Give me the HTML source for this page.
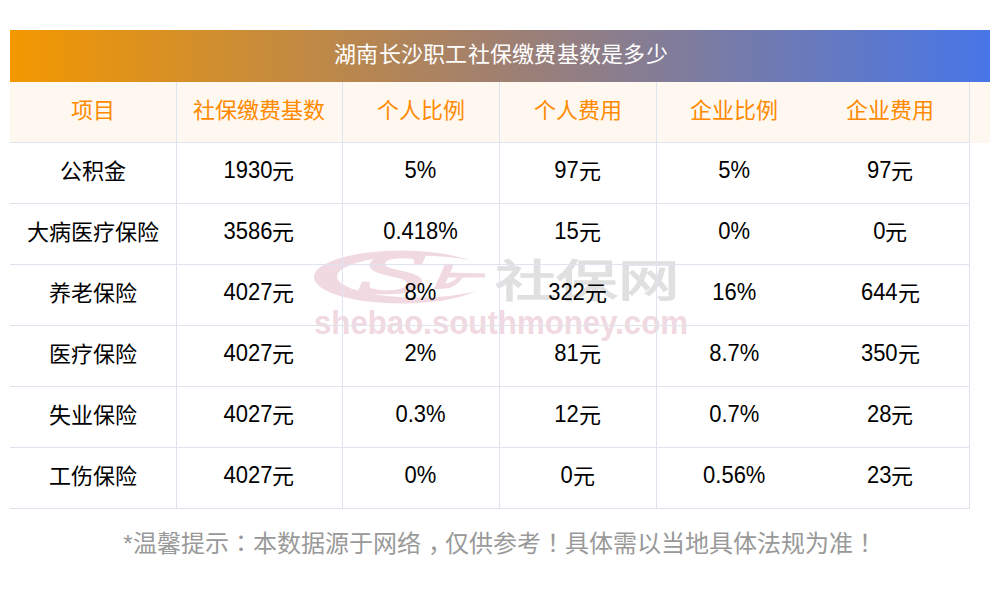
<!DOCTYPE html>
<html lang="zh-CN">
<head>
<meta charset="utf-8">
<style>
html,body{margin:0;padding:0;background:#fff;}
body{width:1000px;height:612px;position:relative;overflow:hidden;font-family:"Liberation Sans",sans-serif;}
.title{z-index:2;position:absolute;letter-spacing:0.25px;left:10px;top:30px;width:980px;height:52px;line-height:49px;text-align:center;color:#fff;font-size:22px;box-sizing:border-box;padding-left:2px;
background:linear-gradient(90deg,#f39800 0%,#a08070 50%,#4876e8 100%);}
.hdrbg{position:absolute;left:10px;top:82px;width:980px;height:61px;background:#fff8f0;}
table{position:absolute;left:10px;top:81px;border-collapse:collapse;table-layout:fixed;}
td{padding:0;text-align:center;font-size:22px;line-height:24px;color:#000;height:61px;padding-bottom:2px;box-sizing:border-box;border-right:1px solid #dfe3ee;border-bottom:1px solid #dfe3ee;}
tr.h td{color:#ff8a00;padding-top:1px;padding-bottom:1px;}
td.nb{border-right:none;}
.n{display:inline-block;transform:translateY(-1px) scaleY(1.06);transform-origin:50% 80%;}
.foot{position:absolute;left:0;top:522px;width:1000px;text-align:center;color:#999;font-size:24px;line-height:44px;}
.cm{position:relative;left:7px;}
</style>
</head>
<body>
<svg class="wm" width="1000" height="612" viewBox="0 0 1000 612" style="position:absolute;left:0;top:0;">
<ellipse cx="401.5" cy="277" rx="87.5" ry="26.5" fill="#f1d9e1"/>
<ellipse cx="418" cy="276.5" rx="81" ry="21" fill="#fff"/>
<g fill="#f1d9e1">
<text x="0" y="293.5" stroke="#f1d9e1" stroke-width="1.6" font-family="Liberation Serif" font-style="italic" font-size="57" transform="translate(358.5 0) scale(2.36 1)">S</text>
<path d="M445,264 L454,264 L443,289 L434,289 Z"/>
<path d="M436,286 Q452,294 464,276 L459,275 Q451,286 440,283 Z"/>
<path d="M446,272.5 L485,273.5 L485,277.5 L445,277.5 Z"/>
<text x="314" y="334" font-family="Liberation Sans" font-weight="bold" font-size="33" textLength="374" lengthAdjust="spacingAndGlyphs">shebao.southmoney.com</text>
</g>
<text x="495" y="297" fill="#e0e0e0" font-family="Liberation Sans" font-weight="bold" font-size="44" textLength="184" lengthAdjust="spacingAndGlyphs">社保网</text>
</svg>
<div class="title">湖南长沙职工社保缴费基数是多少</div>
<div class="hdrbg"></div>
<table>
<colgroup><col style="width:166px"><col style="width:166px"><col style="width:157px"><col style="width:157px"><col style="width:156px"><col style="width:157px"></colgroup>
<tr class="h"><td>项目</td><td>社保缴费基数</td><td>个人比例</td><td>个人费用</td><td class="nb">企业比例</td><td>企业费用</td></tr>
<tr><td>公积金</td><td><span class="n">1930</span>元</td><td><span class="n">5%</span></td><td><span class="n">97</span>元</td><td class="nb"><span class="n">5%</span></td><td><span class="n">97</span>元</td></tr>
<tr><td>大病医疗保险</td><td><span class="n">3586</span>元</td><td><span class="n">0.418%</span></td><td><span class="n">15</span>元</td><td class="nb"><span class="n">0%</span></td><td><span class="n">0</span>元</td></tr>
<tr><td>养老保险</td><td><span class="n">4027</span>元</td><td><span class="n">8%</span></td><td><span class="n">322</span>元</td><td class="nb"><span class="n">16%</span></td><td><span class="n">644</span>元</td></tr>
<tr><td>医疗保险</td><td><span class="n">4027</span>元</td><td><span class="n">2%</span></td><td><span class="n">81</span>元</td><td class="nb"><span class="n">8.7%</span></td><td><span class="n">350</span>元</td></tr>
<tr><td>失业保险</td><td><span class="n">4027</span>元</td><td><span class="n">0.3%</span></td><td><span class="n">12</span>元</td><td class="nb"><span class="n">0.7%</span></td><td><span class="n">28</span>元</td></tr>
<tr><td>工伤保险</td><td><span class="n">4027</span>元</td><td><span class="n">0%</span></td><td><span class="n">0</span>元</td><td class="nb"><span class="n">0.56%</span></td><td><span class="n">23</span>元</td></tr>
</table>
<div class="foot">*温馨提示<span lang="zh-TW">：</span>本数据源于网络<span class="cm">，</span>仅供参考<span lang="zh-TW">！</span>具体需以当地具体法规为准<span lang="zh-TW">！</span></div>
</body>
</html>
